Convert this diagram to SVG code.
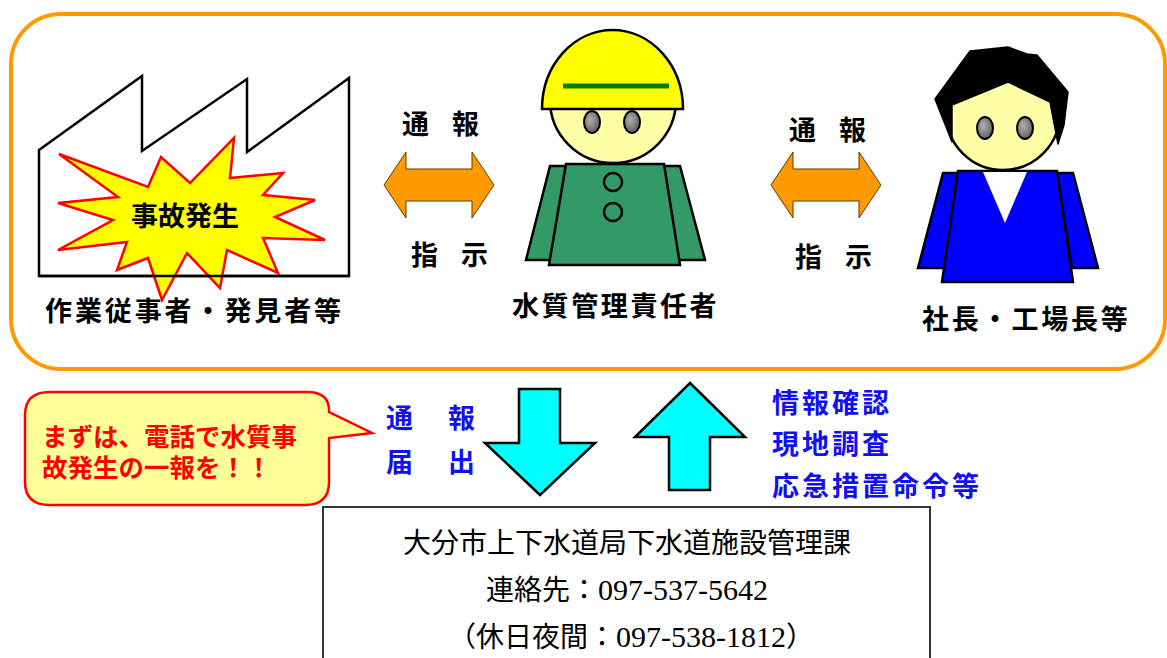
<svg xmlns="http://www.w3.org/2000/svg" width="1167" height="658" viewBox="0 0 1167 658">
  <defs>
    <radialGradient id="eyeFill" cx="0.4" cy="0.4" r="0.7">
      <stop offset="0" stop-color="#b0b0b0"/>
      <stop offset="1" stop-color="#555555"/>
    </radialGradient>
    <style>
      .outline { stroke: #000; stroke-width: 2.5; stroke-linejoin: miter; }
      .eye { fill: url(#eyeFill); stroke: #000; stroke-width: 2; }
      .face { fill: #FFFFA8; stroke: #000; stroke-width: 2.5; }
      .label { font-family: "Noto Sans CJK JP", "Noto Sans CJK SC", sans-serif; font-weight: bold; font-size: 27px; fill: #000; }
      .blue { font-family: "Noto Sans CJK JP", "Noto Sans CJK SC", sans-serif; font-weight: bold; font-size: 27px; fill: #1010F0; }
      .red { font-family: "Noto Sans CJK JP", "Noto Sans CJK SC", sans-serif; font-weight: bold; font-size: 25.5px; fill: #FF0000; }
      .contact { font-family: "Liberation Serif", "Noto Sans CJK JP", serif; font-size: 28px; fill: #000; }
      .jp { font-family: "Noto Sans CJK JP", sans-serif; font-size: 28px; }
      .num { font-family: "Liberation Serif", serif; font-size: 30px; }
      .orangeArrow { fill: #FF9900; stroke: #5a3a00; stroke-width: 1; }
      .cyanArrow { fill: #00FFFF; stroke: #000; stroke-width: 2.5; }
    </style>
  </defs>

  <rect width="1167" height="658" fill="#ffffff"/>

  <!-- on-site frame -->
  <rect id="frame" x="11" y="14" width="1154" height="355" rx="50" ry="50" fill="none" stroke="#FF9900" stroke-width="4"/>

  <!-- factory with explosion -->
  <g id="factory">
    <polygon points="39,150 142,76 142,151 247,79 247,152 349,78 349,276 39,276" fill="#fff" stroke="#000" stroke-width="2.5"/>
    <polygon points="59,154 148,187 161,157 190,183 234,138 230,178 283,173 263,195 315,200 275,217 325,240 263,238 278,273 227,250 220,288 187,253 162,300 148,258 117,270 127,242 58,250 113,220 58,203 118,197" fill="#FFFF00" stroke="#FF0000" stroke-width="2.5"/>
    <line x1="39" y1="276" x2="349" y2="276" stroke="#000" stroke-width="2.5"/>
    <text class="label" x="185" y="226" text-anchor="middle" font-size="29">事故発生</text>
    <text class="label" x="45" y="321" letter-spacing="2.9">作業従事者・発見者等</text>
  </g>

  <!-- water quality manager -->
  <g id="manager">
    <polygon class="outline" points="550,166 566,166 552,260 526,260" fill="#339966"/>
    <polygon class="outline" points="664,166 680,166 705,260 678,260" fill="#339966"/>
    <polygon class="outline" points="566,164 664,164 680,265 549,265" fill="#339966"/>
    <circle cx="613" cy="182" r="9" fill="#339966" stroke="#000" stroke-width="2.5"/>
    <circle cx="613" cy="212" r="9" fill="#339966" stroke="#000" stroke-width="2.5"/>
    <circle class="face" cx="613" cy="100" r="63"/>
    <path d="M542,109 A70.5,79 0 0 1 683,109 Z" fill="#FFFF00" stroke="#000" stroke-width="2.5"/>
    <line x1="563" y1="86" x2="669" y2="86" stroke="#008000" stroke-width="5"/>
    <ellipse class="eye" cx="592" cy="122" rx="8" ry="11"/>
    <ellipse class="eye" cx="632" cy="122" rx="8" ry="11"/>
    <text class="label" x="512" y="316" letter-spacing="2.6">水質管理責任者</text>
  </g>

  <!-- company president / plant manager -->
  <g id="president">
    <polygon class="outline" points="943,173 958,173 945,268 918,268" fill="#0000FF"/>
    <polygon class="outline" points="1057,173 1073,173 1098,268 1072,268" fill="#0000FF"/>
    <polygon class="outline" points="958,171 1057,171 1073,282 942,282" fill="#0000FF"/>
    <polygon points="983,172 1027,172 1005,223" fill="#fff"/>
    <circle class="face" cx="1003" cy="113" r="57"/>
    <polygon points="952,142 935,99 970,51 1008,47 1027,54 1037,55 1068,92 1064,125 1058,144 1050,102 1008,82 952,105" fill="#000" stroke="#000" stroke-width="1.5" stroke-linejoin="round"/>
    <ellipse class="eye" cx="985" cy="128" rx="8" ry="11"/>
    <ellipse class="eye" cx="1025" cy="128" rx="8" ry="11"/>
    <text class="label" x="922" y="329" letter-spacing="2.8">社長・工場長等</text>
  </g>

  <!-- call-out -->
  <g id="callout">
    <path d="M50,392 H307 Q330,392 329,412 L372,433 L329,438 V482 Q329,505 305,505 H50 Q25,505 25,482 V415 Q25,392 50,392 Z" fill="#FFFF99" stroke="#FF0000" stroke-width="2.5"/>
    <text class="red" x="42" y="446">まずは、電話で水質事</text>
    <text class="red" x="42" y="477">故発生の一報を！！</text>
  </g>

  <!-- contact box -->
  <g id="office">
    <rect x="323" y="507" width="607" height="170" fill="#fff" stroke="#333" stroke-width="2"/>
    <text class="contact jp" x="627" y="553" text-anchor="middle">大分市上下水道局下水道施設管理課</text>
    <text class="contact" x="486" y="600"><tspan class="jp">連絡先：</tspan><tspan class="num">097-537-5642</tspan></text>
    <text class="contact" x="448" y="647"><tspan class="jp">（休日夜間：</tspan><tspan class="num">097-538-1812</tspan><tspan class="jp">）</tspan></text>
  </g>

  <!-- connectors -->
  <g id="connectors">
    <polygon class="orangeArrow" points="384,185 406,152 406,169 472,169 472,152 494,185 472,218 472,201 406,201 406,218"/>
    <polygon class="orangeArrow" points="771,185 793,152 793,169 859,169 859,152 881,185 859,218 859,201 793,201 793,218"/>
    <polygon class="cyanArrow" points="519,389 560,389 560,443 595,443 540,495 485,443 519,443"/>
    <polygon class="cyanArrow" points="690,383 745,437 710,437 710,490 669,490 669,437 635,437"/>

    <text class="label" x="402" y="134" font-size="26" letter-spacing="23">通報</text>
    <text class="label" x="411" y="265" font-size="26" letter-spacing="23">指示</text>
    <text class="label" x="789" y="140" font-size="26" letter-spacing="23">通報</text>
    <text class="label" x="795" y="267" font-size="26" letter-spacing="23">指示</text>

    <text class="blue" x="386" y="428" letter-spacing="35">通報</text>
    <text class="blue" x="386" y="472" letter-spacing="35">届出</text>

    <text class="blue" x="772" y="413" letter-spacing="3">情報確認</text>
    <text class="blue" x="772" y="454" letter-spacing="3">現地調査</text>
    <text class="blue" x="772" y="496" letter-spacing="3">応急措置命令等</text>
  </g>
</svg>
